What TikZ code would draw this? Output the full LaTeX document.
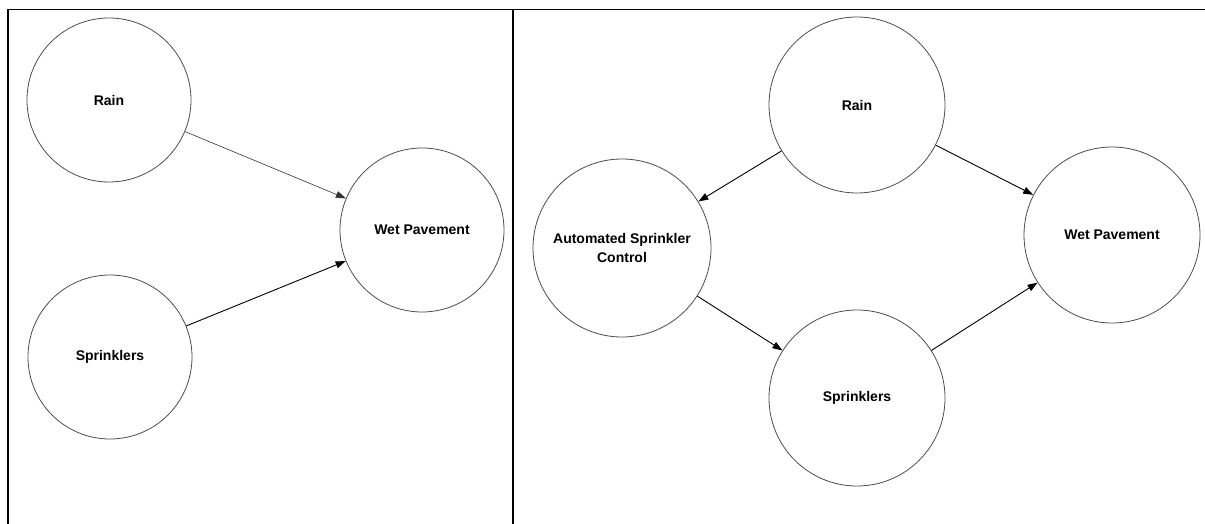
\documentclass[tikz,border=0pt]{standalone}
\usepackage{fontspec}
\setmainfont{Liberation Sans}
\usetikzlibrary{arrows.meta}

\begin{document}
\begin{tikzpicture}[x=1pt, y=-1pt,
    bubble/.style={circle, draw=black!70, line width=0.8pt, minimum size=#1,
        inner sep=0pt, align=center, font=\fontsize{14}{19}\selectfont\bfseries},
    bubble/.default=164pt,
    link/.style={-{Triangle[length=10pt, width=7pt]}, line width=0.9pt, black}]
    \useasboundingbox (0,0) rectangle (1205,524);
    % Frame of the two panels
    \draw[line width=1pt] (7,10) -- (1205,10);
    \draw[line width=2pt] (7.5,9.5) -- (7.5,524);
    \draw[line width=2pt] (513,9.5) -- (513,524);
    % Left panel
    \node[bubble] (rainL) at (109,100) {Rain};
    \node[bubble] (sprL) at (110,357) {Sprinklers};
    \node[bubble] (wetL) at (422,230) {Wet Pavement};
    \draw[link, line width=0.6pt, black!80] (rainL) -- (wetL);
    \draw[link] (sprL) -- (wetL);
    % Right panel
    \node[bubble=176pt] (rainR) at (857,105) {Rain};
    \node[bubble=178pt] (ctrlR) at (622,248) {Automated Sprinkler\\Control};
    \node[bubble=176pt] (sprR) at (857,398) {Sprinklers};
    \node[bubble=176pt] (wetR) at (1112,235) {Wet Pavement};
    \draw[link] (rainR) -- (ctrlR);
    \draw[link] (rainR) -- (wetR);
    \draw[link] (ctrlR) -- (sprR);
    \draw[link] (sprR) -- (wetR);
\end{tikzpicture}
\end{document}
